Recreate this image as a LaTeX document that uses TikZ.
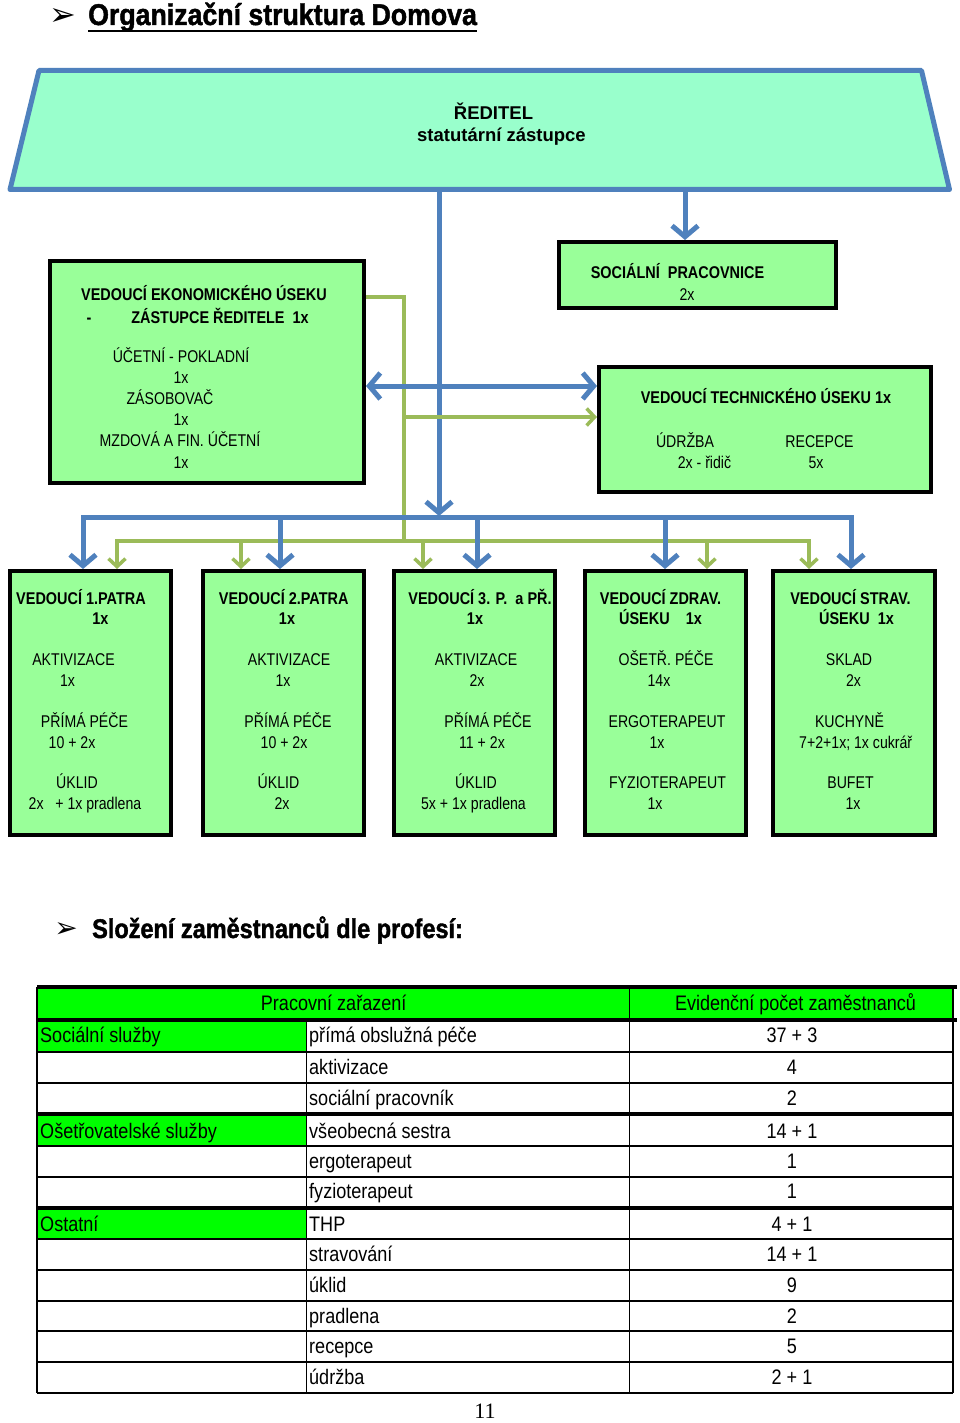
\documentclass[tikz,border=0pt]{standalone}
\usepackage{fontspec}
\setmainfont{Liberation Sans}[FakeStretch=0.83,BoldFeatures={FakeStretch=0.85}]
\newfontfamily\dirfont{Liberation Sans}
\newfontfamily\tabfont{Liberation Sans}[FakeStretch=0.86]
\newfontfamily\titlefont{Liberation Sans}[FakeStretch=0.89,FakeBold=1.5]
\newfontfamily\headfont{Liberation Sans}[FakeStretch=0.87,FakeBold=1.5]
\newfontfamily\pagefont{Liberation Serif}
\newfontfamily\markfont{DejaVu Sans}
\usetikzlibrary{arrows.meta}
\definecolor{mint}{RGB}{153,255,204}
\definecolor{boxgreen}{RGB}{153,255,153}
\definecolor{linkblue}{RGB}{79,129,189}
\definecolor{linkgreen}{RGB}{155,187,89}
\definecolor{tabgreen}{RGB}{0,255,0}
\begin{document}
\begin{tikzpicture}
[x=1pt,y=-1pt,
 boxdecorate/.style={draw=black,line width=4pt,fill=boxgreen,inner sep=0pt},
 textdecorate/.style={anchor=base,inner sep=0pt,font=\fontsize{17}{20}\selectfont},
 bolddecorate/.style={anchor=base,inner sep=0pt,font=\fontsize{17}{20}\selectfont\bfseries},
 bluedecorate/.style={draw=linkblue,line width=5pt},
 bluearrow/.style={bluedecorate,-{Straight Barb[length=11pt,width=26pt]}},
 greendecorate/.style={draw=linkgreen,line width=3.5pt},
 greenarrow/.style={greendecorate,-{Straight Barb[length=8pt,width=17pt]}},
 celldecorate/.style={anchor=base west,inner sep=0pt,font=\tabfont\fontsize{21}{24}\selectfont},
 numdecorate/.style={celldecorate,anchor=base}]
\useasboundingbox[fill=white] (0,0) rectangle (960,1423);
% headings
\node (titlemark) at (63,17) [inner sep=0pt,font=\markfont\fontsize{32}{32}\selectfont] {➢};
\node (title) at (88,25) [anchor=base west,inner sep=0pt,font=\titlefont\bfseries\fontsize{30}{32}\selectfont] {Organizační struktura Domova};
\draw[line width=2.5pt] ([yshift=-6pt]title.base west) -- ([yshift=-6pt]title.base east);
\node (staffmark) at (66,930) [inner sep=0pt,font=\markfont\fontsize{28}{28}\selectfont] {➢};
\node (staff) at (92,938) [anchor=base west,inner sep=0pt,font=\headfont\bfseries\fontsize{27}{29}\selectfont] {Složení zaměstnanců dle profesí:};
% nodes or boxes
\draw[draw=linkblue,line width=5pt,fill=mint,line join=round] (39,70.5) -- (921.5,70.5) -- (949.5,189.5) -- (10,189.5) -- cycle;
\coordinate (dir) at (480,192);
\node (dirhead) at (493.5,119.5) [bolddecorate,font=\dirfont\bfseries\fontsize{18.5}{20}\selectfont] {ŘEDITEL};
\node (dirsub) at (501.5,142) [bolddecorate,font=\dirfont\bfseries\fontsize{18.5}{20}\selectfont] {statutární zástupce};
\node (eco) at (207,372) [boxdecorate,minimum width=314pt,minimum height=222pt] {};
\node (ecohead) at (204,300) [bolddecorate] {VEDOUCÍ EKONOMICKÉHO ÚSEKU};
\node (ecodash) at (89,323) [bolddecorate] {-};
\node (ecodep) at (220,323) [bolddecorate] {ZÁSTUPCE ŘEDITELE~~1x};
\node (eco1) at (181,362) [textdecorate] {ÚČETNÍ - POKLADNÍ};
\node (eco2) at (181,383) [textdecorate] {1x};
\node (eco3) at (170,404) [textdecorate] {ZÁSOBOVAČ};
\node (eco4) at (181,425) [textdecorate] {1x};
\node (eco5) at (180,446.5) [textdecorate] {MZDOVÁ A FIN. ÚČETNÍ};
\node (eco6) at (181,468) [textdecorate] {1x};
\node (soc) at (697.5,275) [boxdecorate,minimum width=277pt,minimum height=66pt] {};
\node (sochead) at (677.5,278) [bolddecorate] {SOCIÁLNÍ~~PRACOVNICE};
\node (socnum) at (687,300) [textdecorate] {2x};
\node (tech) at (765,429.5) [boxdecorate,minimum width=332pt,minimum height=125pt] {};
\node (techhead) at (766,403) [bolddecorate] {VEDOUCÍ TECHNICKÉHO ÚSEKU 1x};
\node (tech1) at (685,447) [textdecorate] {ÚDRŽBA};
\node (tech2) at (704.5,468) [textdecorate] {2x - řidič};
\node (tech3) at (819.5,447) [textdecorate] {RECEPCE};
\node (tech4) at (816,468) [textdecorate] {5x};
% floor boxes
\node (fl1) at (90.5,703) [boxdecorate,minimum width=161pt,minimum height=264pt] {};
\node (fl1a) at (81,604) [bolddecorate] {VEDOUCÍ 1.PATRA};
\node (fl1b) at (100.5,624) [bolddecorate] {1x};
\node (fl1c) at (73.5,665) [textdecorate] {AKTIVIZACE};
\node (fl1d) at (67.5,686) [textdecorate] {1x};
\node (fl1e) at (84.5,727) [textdecorate] {PŘÍMÁ PÉČE};
\node (fl1f) at (72,748) [textdecorate] {10 + 2x};
\node (fl1g) at (77,788) [textdecorate] {ÚKLID};
\node (fl1h) at (85,809) [textdecorate] {2x~~~+ 1x pradlena};
\node (fl2) at (283.5,703) [boxdecorate,minimum width=161pt,minimum height=264pt] {};
\node (fl2a) at (283.7,604) [bolddecorate] {VEDOUCÍ 2.PATRA};
\node (fl2b) at (287,624) [bolddecorate] {1x};
\node (fl2c) at (289,665) [textdecorate] {AKTIVIZACE};
\node (fl2d) at (283,686) [textdecorate] {1x};
\node (fl2e) at (288,727) [textdecorate] {PŘÍMÁ PÉČE};
\node (fl2f) at (284,748) [textdecorate] {10 + 2x};
\node (fl2g) at (278.5,788) [textdecorate] {ÚKLID};
\node (fl2h) at (282,809) [textdecorate] {2x};
\node (fl3) at (474.5,703) [boxdecorate,minimum width=161pt,minimum height=264pt] {};
\node (fl3a) at (480,604) [bolddecorate] {VEDOUCÍ 3. P.~~a PŘ.};
\node (fl3b) at (475,624) [bolddecorate] {1x};
\node (fl3c) at (476,665) [textdecorate] {AKTIVIZACE};
\node (fl3d) at (477,686) [textdecorate] {2x};
\node (fl3e) at (488,727) [textdecorate] {PŘÍMÁ PÉČE};
\node (fl3f) at (482,748) [textdecorate] {11 + 2x};
\node (fl3g) at (476,788) [textdecorate] {ÚKLID};
\node (fl3h) at (473.5,809) [textdecorate] {5x + 1x pradlena};
\node (fl4) at (665.5,703) [boxdecorate,minimum width=161pt,minimum height=264pt] {};
\node (fl4a) at (660.5,604) [bolddecorate] {VEDOUCÍ ZDRAV.};
\node (fl4b) at (660.5,624) [bolddecorate] {ÚSEKU~~~~1x};
\node (fl4c) at (666,665) [textdecorate] {OŠETŘ. PÉČE};
\node (fl4d) at (659,686) [textdecorate] {14x};
\node (fl4e) at (667,727) [textdecorate] {ERGOTERAPEUT};
\node (fl4f) at (657,748) [textdecorate] {1x};
\node (fl4g) at (667.5,788) [textdecorate] {FYZIOTERAPEUT};
\node (fl4h) at (655,809) [textdecorate] {1x};
\node (fl5) at (854,703) [boxdecorate,minimum width=162pt,minimum height=264pt] {};
\node (fl5a) at (850.5,604) [bolddecorate] {VEDOUCÍ STRAV.};
\node (fl5b) at (856.5,624) [bolddecorate] {ÚSEKU~~1x};
\node (fl5c) at (849,665) [textdecorate] {SKLAD};
\node (fl5d) at (853.5,686) [textdecorate] {2x};
\node (fl5e) at (849.5,727) [textdecorate] {KUCHYNĚ};
\node (fl5f) at (855.7,748) [textdecorate] {7+2+1x; 1x cukrář};
\node (fl5g) at (850.5,788) [textdecorate] {BUFET};
\node (fl5h) at (853,809) [textdecorate] {1x};
% edges or lines
\coordinate (bluebar) at (0,517);
\coordinate (greenbar) at (0,541);
\coordinate (greenbend) at (404,297);
\coordinate (bluedrop) at (439,516);
\coordinate (socdrop) at (685,240);
\coordinate (twoway) at (0,386);
\coordinate (greenside) at (0,417);
\draw[greendecorate] (eco.east |- greenbend) -- (greenbend) -- (greenbend |- greenbar);
\draw[bluearrow] (dir -| bluedrop) -- (bluedrop);
\draw[bluearrow] (dir -| socdrop) -- (soc.north -| socdrop);
\draw[bluedecorate,{Straight Barb[length=11pt,width=26pt]}-{Straight Barb[length=11pt,width=26pt]}] (eco.east |- twoway) -- (tech.west |- twoway);
\draw[greenarrow] (greenbend |- greenside) -- (tech.west |- greenside);
\draw[bluedecorate,line cap=rect] ([xshift=-7.5pt]fl1.north |- bluebar) -- ([xshift=-3pt]fl5.north |- bluebar);
\draw[greendecorate,line cap=rect] ([xshift=26.5pt]fl1.north |- greenbar) -- ([xshift=-45pt]fl5.north |- greenbar);
\draw[bluearrow] ([xshift=-7.5pt]fl1.north |- bluebar) -- ([xshift=-7.5pt]fl1.north);
\draw[bluearrow] ([xshift=-3.5pt]fl2.north |- bluebar) -- ([xshift=-3.5pt]fl2.north);
\draw[bluearrow] ([xshift=2.5pt]fl3.north |- bluebar) -- ([xshift=2.5pt]fl3.north);
\draw[bluearrow] ([xshift=-0.5pt]fl4.north |- bluebar) -- ([xshift=-0.5pt]fl4.north);
\draw[bluearrow] ([xshift=-3pt]fl5.north |- bluebar) -- ([xshift=-3pt]fl5.north);
\draw[greenarrow] ([xshift=26.5pt]fl1.north |- greenbar) -- ([xshift=26.5pt]fl1.north);
\draw[greenarrow] ([xshift=-42.5pt]fl2.north |- greenbar) -- ([xshift=-42.5pt]fl2.north);
\draw[greenarrow] ([xshift=-51.5pt]fl3.north |- greenbar) -- ([xshift=-51.5pt]fl3.north);
\draw[greenarrow] ([xshift=41.5pt]fl4.north |- greenbar) -- ([xshift=41.5pt]fl4.north);
\draw[greenarrow] ([xshift=-45pt]fl5.north |- greenbar) -- ([xshift=-45pt]fl5.north);
% table
\fill[tabgreen] (37,987) rectangle (953,1020);
\fill[tabgreen] (37,1020) rectangle (306.5,1052);
\fill[tabgreen] (37,1114) rectangle (306.5,1146);
\fill[tabgreen] (37,1208) rectangle (306.5,1239);
\draw[line width=1.5pt] (37,1052) -- (953,1052) (37,1083) -- (953,1083) (37,1146) -- (953,1146)
  (37,1177) -- (953,1177) (37,1239) -- (953,1239) (37,1270) -- (953,1270) (37,1301) -- (953,1301)
  (37,1331) -- (953,1331) (37,1362) -- (953,1362) (37,1393) -- (953,1393);
\draw[line width=1.5pt] (37,987) -- (37,1393) (306.5,1020) -- (306.5,1393) (629.5,987) -- (629.5,1393) (953,987) -- (953,1393);
\draw[line width=4pt] (37,987) -- (957,987) (37,1020) -- (957,1020) (37,1114) -- (953,1114) (37,1208) -- (953,1208);
\node (tabhead1) at (333.7,1010) [numdecorate] {Pracovní zařazení};
\node (tabhead2) at (795.5,1010) [numdecorate] {Evidenční počet zaměstnanců};
\node (grp1) at (40,1042) [celldecorate] {Sociální služby};
\node (job1) at (309,1042) [celldecorate] {přímá obslužná péče};
\node (num1) at (792,1042) [numdecorate] {37 + 3};
\node (job2) at (309,1074) [celldecorate] {aktivizace};
\node (num2) at (792,1074) [numdecorate] {4};
\node (job3) at (309,1105) [celldecorate] {sociální pracovník};
\node (num3) at (792,1105) [numdecorate] {2};
\node (grp2) at (40,1138) [celldecorate] {Ošetřovatelské služby};
\node (job4) at (309,1138) [celldecorate] {všeobecná sestra};
\node (num4) at (792,1138) [numdecorate] {14 + 1};
\node (job5) at (309,1168) [celldecorate] {ergoterapeut};
\node (num5) at (792,1168) [numdecorate] {1};
\node (job6) at (309,1198) [celldecorate] {fyzioterapeut};
\node (num6) at (792,1198) [numdecorate] {1};
\node (grp3) at (40,1231) [celldecorate] {Ostatní};
\node (job7) at (309,1231) [celldecorate] {THP};
\node (num7) at (792,1231) [numdecorate] {4 + 1};
\node (job8) at (309,1261) [celldecorate] {stravování};
\node (num8) at (792,1261) [numdecorate] {14 + 1};
\node (job9) at (309,1292) [celldecorate] {úklid};
\node (num9) at (792,1292) [numdecorate] {9};
\node (job10) at (309,1323) [celldecorate] {pradlena};
\node (num10) at (792,1323) [numdecorate] {2};
\node (job11) at (309,1353) [celldecorate] {recepce};
\node (num11) at (792,1353) [numdecorate] {5};
\node (job12) at (309,1384) [celldecorate] {údržba};
\node (num12) at (792,1384) [numdecorate] {2 + 1};
\node (page) at (485,1418) [anchor=base,inner sep=0pt,font=\pagefont\fontsize{22}{24}\selectfont] {11};
\end{tikzpicture}
\end{document}
